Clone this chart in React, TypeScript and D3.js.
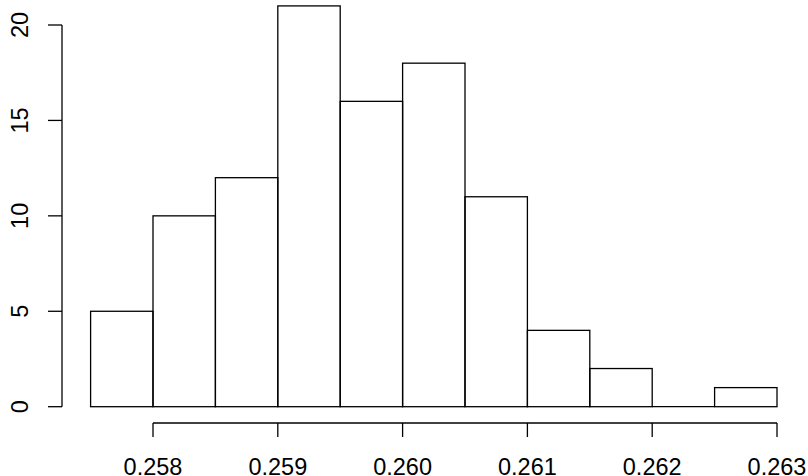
import React from "react";
import * as d3 from "d3";

const binStarts = [0.2575, 0.258, 0.2585, 0.259, 0.2595, 0.26, 0.2605, 0.261, 0.2615, 0.262, 0.2625];
const binWidth = 0.0005;
const counts = [5, 10, 12, 21, 16, 18, 11, 4, 2, 0, 1];
const xTicks = [0.258, 0.259, 0.26, 0.261, 0.262, 0.263];
const yTicks = [0, 5, 10, 15, 20];

export default function App() {
  const W = 808, H = 476;
  const x = d3.scaleLinear().domain([0.258, 0.263]).range([153, 777]);
  const y = d3.scaleLinear().domain([0, 20]).range([406.7, 25]);
  const font = "'Liberation Sans', Arial, Helvetica, sans-serif";
  const sw = 1.3;
  const axisY = 423;
  const axisX = 62;
  return (
    <svg width={W} height={H} style={{ position: "absolute", left: 0, top: 0, background: "#fff" }}>
      <rect x={0} y={0} width={W} height={H} fill="#fff" />
      {binStarts.map((b, i) =>
        counts[i] > 0 ? (
          <rect key={i} x={x(b)} y={y(counts[i])} width={x(b + binWidth) - x(b)} height={y(0) - y(counts[i])}
            fill="none" stroke="#000" strokeWidth={sw} />
        ) : (
          <line key={i} x1={x(b)} x2={x(b + binWidth)} y1={y(0)} y2={y(0)} stroke="#000" strokeWidth={sw} />
        )
      )}
      {/* x axis */}
      <line x1={x(xTicks[0])} x2={x(xTicks[xTicks.length - 1])} y1={axisY} y2={axisY} stroke="#000" strokeWidth={sw} />
      {xTicks.map((t) => (
        <g key={t}>
          <line x1={x(t)} x2={x(t)} y1={axisY} y2={axisY + 14} stroke="#000" strokeWidth={sw} />
          <text x={x(t)} y={475} textAnchor="middle" fontFamily={font} fontSize={23.5} fill="#000">
            {d3.format(".3f")(t)}
          </text>
        </g>
      ))}
      {/* y axis */}
      <line x1={axisX} x2={axisX} y1={y(0)} y2={y(20)} stroke="#000" strokeWidth={sw} />
      {yTicks.map((t) => (
        <g key={t}>
          <line x1={axisX - 14} x2={axisX} y1={y(t)} y2={y(t)} stroke="#000" strokeWidth={sw} />
          <text transform={`translate(${28},${y(t)}) rotate(-90)`} textAnchor="middle" fontFamily={font} fontSize={23.5} fill="#000">
            {t}
          </text>
        </g>
      ))}
    </svg>
  );
}
